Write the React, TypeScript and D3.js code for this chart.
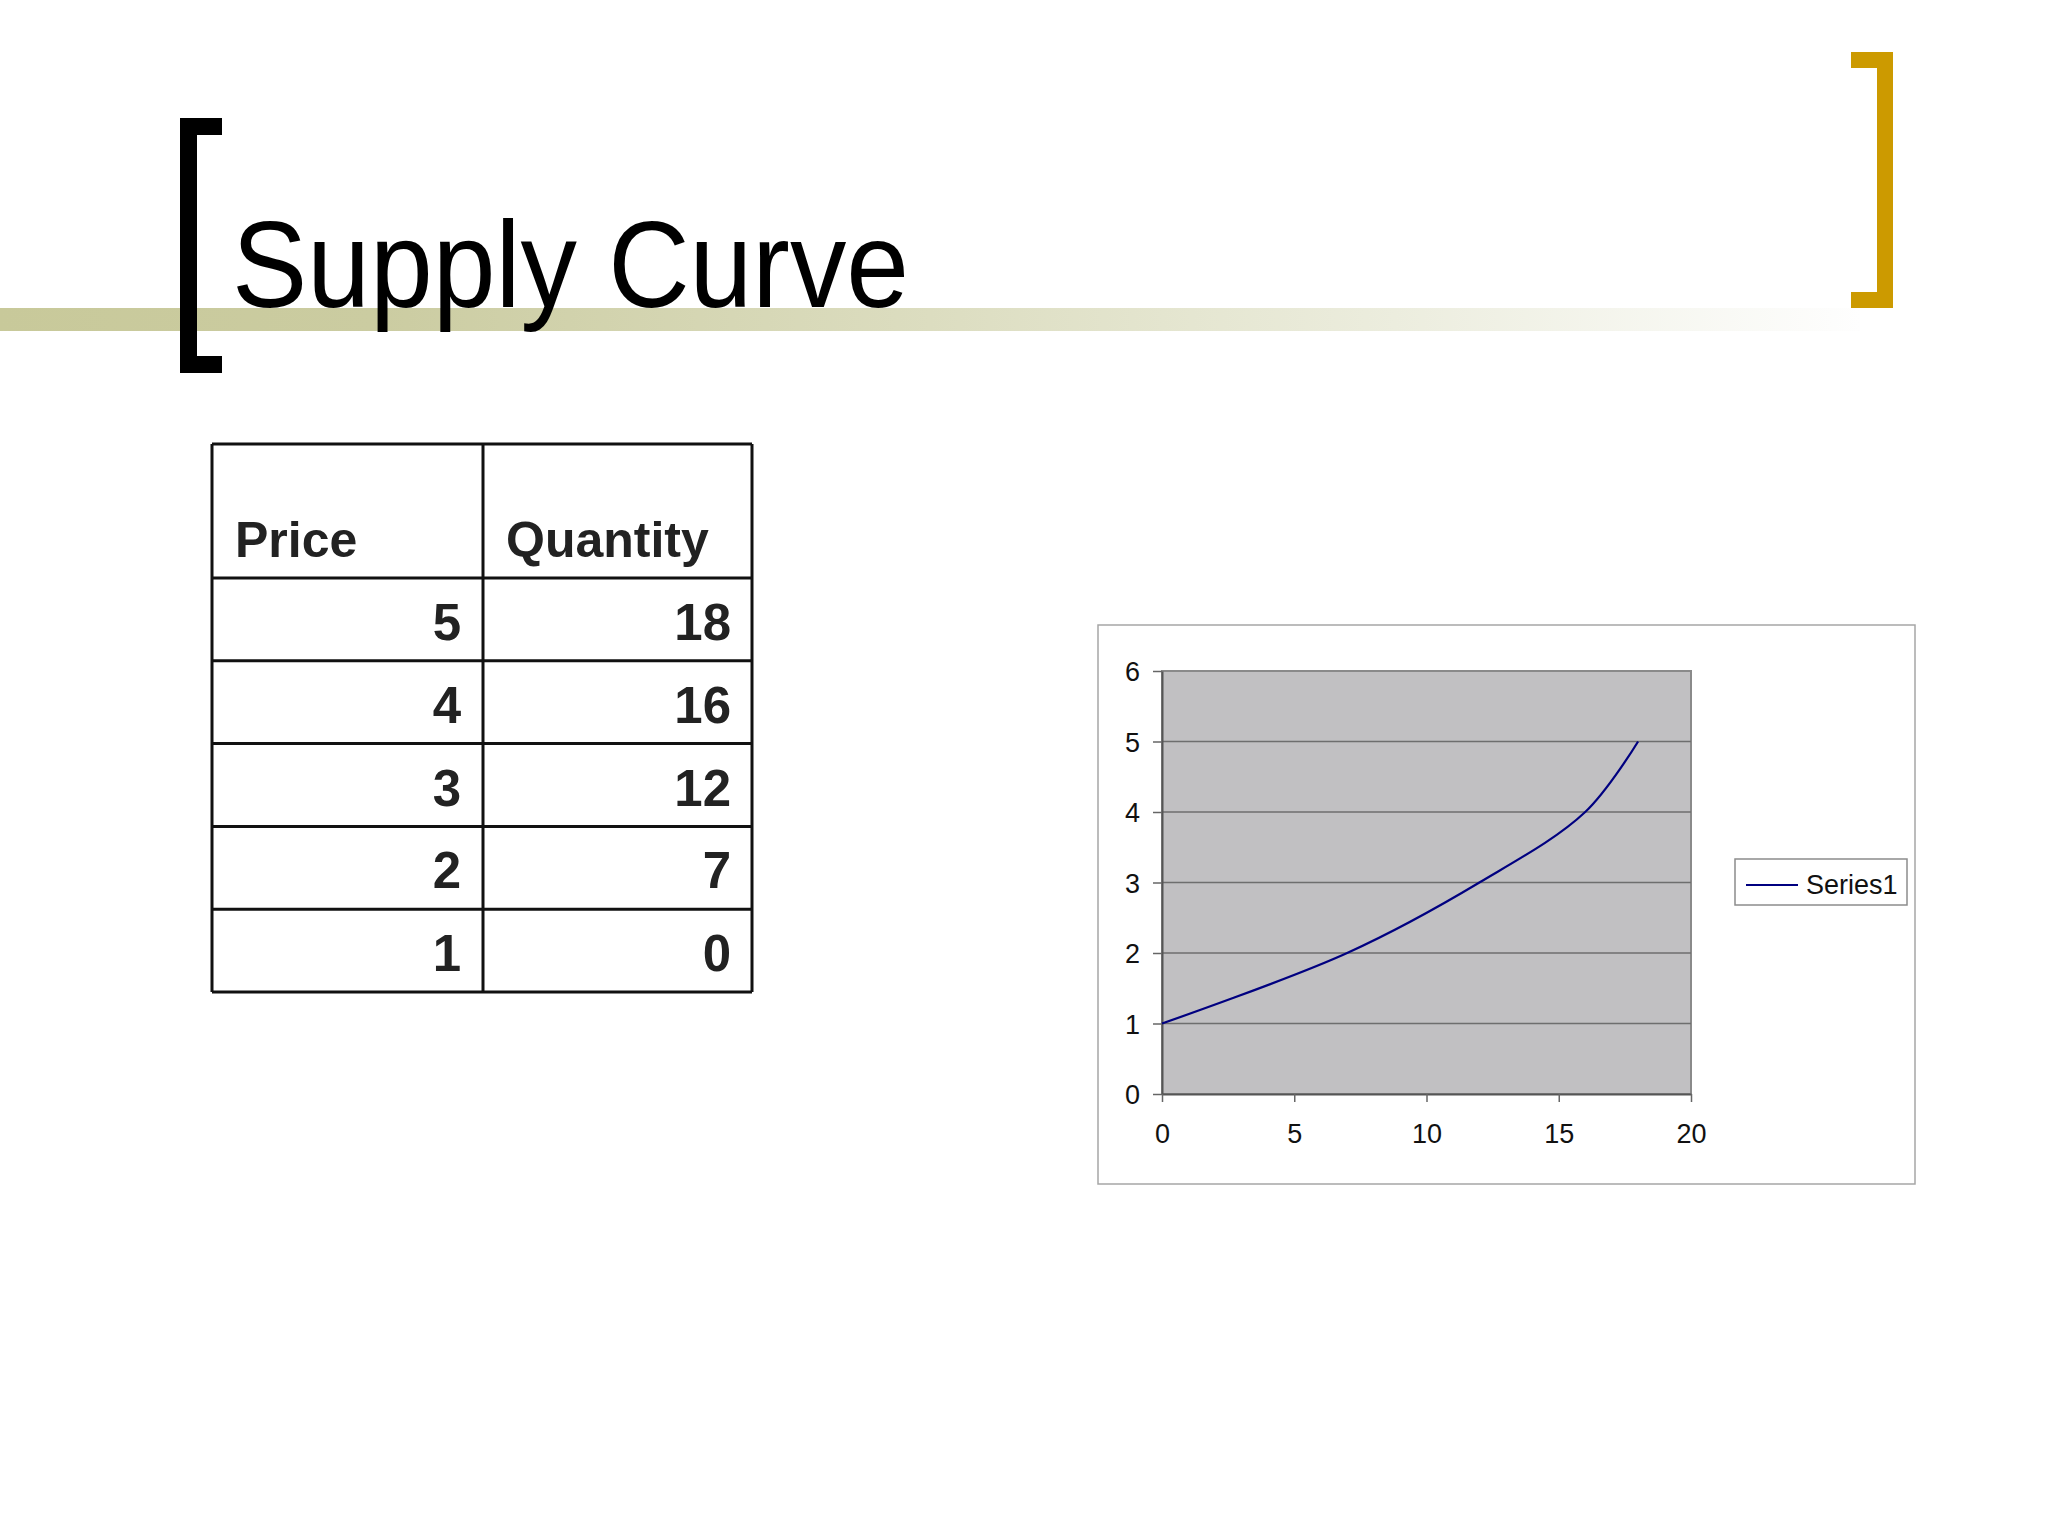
import * as d3 from 'd3'
import React, { useEffect, useRef } from 'react'

// supply schedule (table rows, top to bottom)
const prices = [5, 4, 3, 2, 1]
const quantities = [18, 16, 12, 7, 0]
const headers = ['Price', 'Quantity']
const seriesName = 'Series1'
const xTicks = [0, 5, 10, 15, 20]
const yTicks = [0, 1, 2, 3, 4, 5, 6]

export default function App() {
  const sandbox = useRef<SVGSVGElement | null>(null)

  useEffect(() => {
    const svg = d3.select(sandbox.current)
    svg.selectAll('*').remove()
    const font = 'Liberation Sans, Arial, sans-serif'

    //title band
    const grad = svg
      .append('defs')
      .append('linearGradient')
      .attr('id', 'band')
      .attr('x1', '0%')
      .attr('x2', '100%')
    ;[
      [0, '#c8c99a'],
      [0.2, '#cbcca1'],
      [0.5, '#dcddc0'],
      [0.75, '#ecedde'],
      [1, '#fefefe']
    ].forEach(([o, c]) => grad.append('stop').attr('offset', o as number).attr('stop-color', c as string))

    svg.append('rect').attr('x', 0).attr('y', 308).attr('width', 1860).attr('height', 23).attr('fill', 'url(#band)')

    //brackets
    svg
      .append('path')
      .attr('d', 'M180,118 H222 V135 H197 V356 H222 V373 H180 Z')
      .attr('fill', '#000')
    svg
      .append('path')
      .attr('d', 'M1851,52 H1893 V308 H1851 V292 H1877 V68 H1851 Z')
      .attr('fill', '#cc9a00')

    svg
      .append('text')
      .attr('x', 232)
      .attr('y', 307)
      .attr('font-family', font)
      .attr('font-size', 122)
      .attr('textLength', 677)
      .attr('lengthAdjust', 'spacingAndGlyphs')
      .attr('fill', '#000')
      .text('Supply Curve')

    //table
    const tx = [212, 483, 752]
    const headerBottom = 578
    const rowH = 82.8
    const tableBottom = headerBottom + rowH * prices.length
    const table = svg.append('g').attr('font-family', font).attr('font-weight', 'bold').attr('fill', '#222')

    headers.forEach((h, i) => {
      table
        .append('text')
        .attr('x', tx[i] + 23)
        .attr('y', 557)
        .attr('font-size', 50)
        .attr('fill', '#222')
        .text(h)
    })

    prices.forEach((p, i) => {
      const base = headerBottom + rowH * i + 62
      table.append('text').attr('x', tx[1] - 22).attr('y', base).attr('text-anchor', 'end').attr('font-size', 51).attr('fill', '#222').text(p)
      table.append('text').attr('x', tx[2] - 21).attr('y', base).attr('text-anchor', 'end').attr('font-size', 51).attr('fill', '#222').text(quantities[i])
    })

    const lines = svg.append('g').attr('stroke', '#111').attr('stroke-width', 3)
    tx.forEach(x => lines.append('line').attr('x1', x).attr('x2', x).attr('y1', 444).attr('y2', tableBottom))
    ;[444, headerBottom, ...prices.map((_, i) => headerBottom + rowH * (i + 1))].forEach(y =>
      lines.append('line').attr('x1', tx[0]).attr('x2', tx[2]).attr('y1', y).attr('y2', y)
    )

    //chart frame
    svg
      .append('rect')
      .attr('x', 1098)
      .attr('y', 625)
      .attr('width', 817)
      .attr('height', 559)
      .attr('fill', '#fff')
      .attr('stroke', '#a6a6a6')
      .attr('stroke-width', 1.5)

    const x = d3.scaleLinear().domain([0, 20]).range([1162, 1691])
    const y = d3.scaleLinear().domain([0, 6]).range([1094, 671])

    svg
      .append('rect')
      .attr('x', x(0))
      .attr('y', y(6))
      .attr('width', x(20) - x(0))
      .attr('height', y(0) - y(6))
      .attr('fill', '#c1c0c2')
      .attr('stroke', '#8a8a8a')
      .attr('stroke-width', 2)

    //gridlines
    svg
      .append('g')
      .selectAll('line')
      .data(yTicks.slice(1, -1))
      .join('line')
      .attr('x1', x(0))
      .attr('x2', x(20))
      .attr('y1', d => y(d))
      .attr('y2', d => y(d))
      .attr('stroke', '#6e6e6e')
      .attr('stroke-width', 1.5)

    //axes
    const fmt = d3.format('d')
    const yAxis = svg
      .append('g')
      .attr('transform', `translate(${x(0)},0)`)
      .call(d3.axisLeft(y).tickValues(yTicks).tickFormat(fmt).tickSize(9).tickPadding(13).tickSizeOuter(0))
    const xAxis = svg
      .append('g')
      .attr('transform', `translate(0,${y(0)})`)
      .call(d3.axisBottom(x).tickValues(xTicks).tickFormat(fmt).tickSize(8).tickPadding(22).tickSizeOuter(0))
    ;[yAxis, xAxis].forEach(a => {
      a.select('.domain').attr('stroke', '#555').attr('stroke-width', 2)
      a.selectAll('.tick line').attr('stroke', '#666').attr('stroke-width', 1.5)
      a.selectAll('.tick text').attr('font-family', font).attr('font-size', 27).attr('fill', '#111')
    })
    xAxis.selectAll('.tick text').attr('dy', '0.71em')
    yAxis.selectAll('.tick text').attr('dy', '0.36em')

    //supply curve
    const pts = quantities.map((q, i) => [q, prices[i]] as [number, number]).sort((a, b) => a[0] - b[0])
    const line = d3
      .line<[number, number]>()
      .x(d => x(d[0]))
      .y(d => y(d[1]))
      .curve(d3.curveCatmullRom.alpha(0.5))
    svg
      .append('path')
      .datum(pts)
      .attr('d', line)
      .attr('fill', 'none')
      .attr('stroke', '#000080')
      .attr('stroke-width', 2.2)

    //legend
    svg
      .append('rect')
      .attr('x', 1735)
      .attr('y', 859)
      .attr('width', 172)
      .attr('height', 46)
      .attr('fill', '#fff')
      .attr('stroke', '#8c8c8c')
      .attr('stroke-width', 1.5)
    svg
      .append('line')
      .attr('x1', 1746)
      .attr('x2', 1798)
      .attr('y1', 885)
      .attr('y2', 885)
      .attr('stroke', '#000080')
      .attr('stroke-width', 2.2)
    svg
      .append('text')
      .attr('x', 1806)
      .attr('y', 894)
      .attr('font-family', font)
      .attr('font-size', 27)
      .attr('fill', '#111')
      .text(seriesName)
  }, [sandbox])

  return (
    <svg
      ref={sandbox}
      width="2048"
      height="1536"
      style={{ position: 'absolute', left: 0, top: 0, background: '#fff' }}
    />
  )
}
